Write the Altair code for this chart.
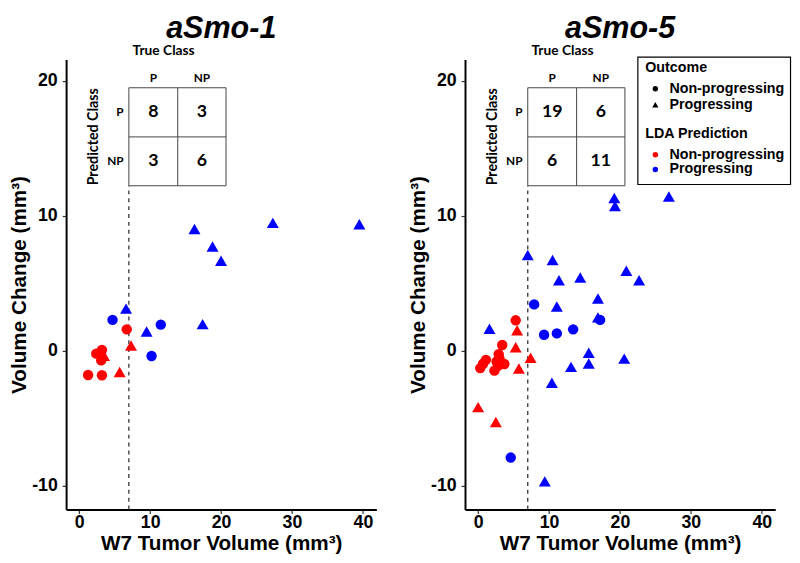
import altair as alt
import pandas as pd

LABELS = {"NP": "Non-progressing", "P": "Progressing"}
CATS = ["Non-progressing", "Progressing"]
CODES = ["NP", "P"]

# ---------------- aSmo-1 ----------------
a1_volume = [6.6, 9.5, 17.4, 16.25, 27.3, 39.5, 18.8, 20.0,
             4.7, 11.5, 10.2,
             7.3, 3.5, 5.7,
             6.7, 3.2, 2.4, 3.1, 1.25, 3.2]
a1_change = [3.1, 1.4, 1.95, 9.0, 9.45, 9.35, 7.7, 6.65,
             2.3, 1.95, -0.37,
             0.37, -0.4, -1.6,
             1.6, 0.07, -0.2, -0.7, -1.78, -1.8]
a1_outcome = ["P", "P", "P", "P", "P", "P", "P", "P",
              "NP", "NP", "NP",
              "P", "P", "P",
              "NP", "NP", "NP", "NP", "NP", "NP"]
a1_predicted = ["P", "P", "P", "P", "P", "P", "P", "P",
                "P", "P", "P",
                "NP", "NP", "NP",
                "NP", "NP", "NP", "NP", "NP", "NP"]
a1_matrix = [8, 3, 3, 6]

# ---------------- aSmo-5 ----------------
a5_volume = [11.1, 16.9, 1.6, 15.6, 15.6, 13.1, 20.6, 10.4, 9.4, 19.2,
             19.3, 26.9, 7.0, 10.5, 11.4, 14.4, 20.9, 22.7, 16.9,
             7.9, 17.2, 9.3, 11.1, 13.4, 4.6,
             5.5, 5.3, 7.4, 5.75, 0.0, 2.5,
             5.3, 3.4, 2.9, 1.1, 2.6, 3.7, 0.3, 2.3, 0.7, 3.0, 2.8]
a5_change = [3.25, 2.45, 1.6, -0.17, -0.97, -1.22, -0.61, -2.4, -9.7, 11.3,
             10.7, 11.4, 7.07, 6.7, 5.2, 5.4, 5.9, 5.2, 3.85,
             3.45, 2.3, 1.2, 1.3, 1.6, -7.9,
             1.5, 0.24, -0.54, -1.34, -4.2, -5.3,
             2.27, 0.44, -0.24, -0.66, -0.78, -0.97, -1.27, -1.46, -0.95, -0.55, -1.1]
a5_outcome = ["P", "P", "P", "P", "P", "P", "P", "P", "P", "P",
              "P", "P", "P", "P", "P", "P", "P", "P", "P",
              "NP", "NP", "NP", "NP", "NP", "NP",
              "P", "P", "P", "P", "P", "P",
              "NP", "NP", "NP", "NP", "NP", "NP", "NP", "NP", "NP", "NP", "NP"]
a5_predicted = ["P", "P", "P", "P", "P", "P", "P", "P", "P", "P",
                "P", "P", "P", "P", "P", "P", "P", "P", "P",
                "P", "P", "P", "P", "P", "P",
                "NP", "NP", "NP", "NP", "NP", "NP",
                "NP", "NP", "NP", "NP", "NP", "NP", "NP", "NP", "NP", "NP", "NP"]
a5_matrix = [19, 6, 6, 11]

MATRIX_ROWS = ["P", "P", "NP", "NP"]
MATRIX_COLS = ["P", "NP", "P", "NP"]
X_TICKS = [0, 10, 20, 30, 40]
Y_TICKS = [-10, 0, 10, 20]

# layout constants (data units)
X_DOMAIN = [-1.85, 41.9]
Y_DOMAIN = [-11.75, 21.6]
CUTOFF = 7.0
TABLE_X = [7.0, 13.89, 20.7]
TABLE_Y = [19.5, 15.86, 12.24]

RED, BLUE = "#FF0000", "#0000FF"
AX_FONT = "Liberation Sans"
TB_FONT = "Lato"
TRIANGLE = "M0,-1.1L1.15,0.9L-1.15,0.9Z"


def panel(name, vol, chg, out, pred, matrix, show_legend):
    df = pd.DataFrame({
        "vol": vol, "chg": chg,
        "Outcome": [LABELS[o] for o in out],
        "Pred": pred,
    })
    xs = alt.Scale(domain=X_DOMAIN, nice=False, zero=False)
    ys = alt.Scale(domain=Y_DOMAIN, nice=False, zero=False)
    x_axis = alt.Axis(values=X_TICKS, title="W7 Tumor Volume (mm³)")
    y_axis = alt.Axis(values=Y_TICKS, title="Volume Change (mm³)",
                      labelExpr="replace(datum.label, '−', '-')")

    if show_legend:
        shape_legend = alt.Legend(title="Outcome", orient="none", legendX=183, legendY=1.5,
                                  symbolFillColor="black", symbolStrokeColor="black",
                                  symbolStrokeWidth=0, symbolSize=30, symbolOffset=3,
                                  labelOffset=7, titlePadding=6.5, rowPadding=1.5,
                                  padding=0)
        color_legend = alt.Legend(title="LDA Prediction", orient="none", legendX=183, legendY=69,
                                  symbolType="circle", symbolStrokeWidth=0, symbolSize=30,
                                  symbolOffset=3, labelOffset=7, titlePadding=6,
                                  rowPadding=0, padding=0,
                                  labelExpr="datum.label == 'NP' ? 'Non-progressing' : 'Progressing'")
    else:
        shape_legend = None
        color_legend = None

    pts = alt.Chart(df).mark_point(filled=True, opacity=1, strokeWidth=0, size=112).encode(
        x=alt.X("vol:Q", scale=xs, axis=x_axis),
        y=alt.Y("chg:Q", scale=ys, axis=y_axis),
        shape=alt.Shape("Outcome:N", scale=alt.Scale(domain=CATS, range=["circle", TRIANGLE]),
                        legend=shape_legend),
        color=alt.Color("Pred:N", scale=alt.Scale(domain=CODES, range=[RED, BLUE]),
                        legend=color_legend),
    )

    cut_df = pd.DataFrame({"x": [CUTOFF], "y": [Y_DOMAIN[0]], "y2": [TABLE_Y[2]]})
    cut = alt.Chart(cut_df).mark_rule(strokeDash=[4, 4], color="#333333", strokeWidth=1.3).encode(
        x=alt.X("x:Q", scale=xs), y=alt.Y("y:Q", scale=ys), y2="y2:Q")

    segs = []
    for ty in TABLE_Y:
        segs.append({"x": TABLE_X[0], "x2": TABLE_X[2], "y": ty, "y2": ty})
    for tx in TABLE_X:
        segs.append({"x": tx, "x2": tx, "y": TABLE_Y[0], "y2": TABLE_Y[2]})
    grid = alt.Chart(pd.DataFrame(segs)).mark_rule(color="#444444", strokeWidth=1).encode(
        x=alt.X("x:Q", scale=xs), x2="x2:Q", y=alt.Y("y:Q", scale=ys), y2="y2:Q")

    cx = {"P": (TABLE_X[0] + TABLE_X[1]) / 2, "NP": (TABLE_X[1] + TABLE_X[2]) / 2}
    cy = {"P": (TABLE_Y[0] + TABLE_Y[1]) / 2, "NP": (TABLE_Y[1] + TABLE_Y[2]) / 2}
    cells = pd.DataFrame({
        "x": [cx[c] for c in MATRIX_COLS],
        "y": [cy[r] for r in MATRIX_ROWS],
        "n": [str(v) for v in matrix],
    })
    cell_txt = alt.Chart(cells).mark_text(font=TB_FONT, fontWeight="bold", fontSize=18,
                                          baseline="middle", color="black").encode(
        x=alt.X("x:Q", scale=xs), y=alt.Y("y:Q", scale=ys), text="n:N")

    heads = pd.DataFrame({
        "x": [cx["P"], cx["NP"]],
        "y": [TABLE_Y[0] + 0.7, TABLE_Y[0] + 0.7],
        "t": ["P", "NP"],
    })
    head_txt = alt.Chart(heads).mark_text(font=TB_FONT, fontWeight="bold", fontSize=12,
                                          baseline="middle", color="black").encode(
        x=alt.X("x:Q", scale=xs), y=alt.Y("y:Q", scale=ys), text="t:N")

    rows = pd.DataFrame({
        "x": [TABLE_X[0] - 0.75, TABLE_X[0] - 0.75],
        "y": [cy["P"], cy["NP"]],
        "t": ["P", "NP"],
    })
    row_txt = alt.Chart(rows).mark_text(font=TB_FONT, fontWeight="bold", fontSize=12, align="right",
                                        baseline="middle", color="black").encode(
        x=alt.X("x:Q", scale=xs), y=alt.Y("y:Q", scale=ys), text="t:N")

    true_df = pd.DataFrame({"x": [11.9], "y": [22.2], "t": ["True Class"]})
    true_txt = alt.Chart(true_df).mark_text(font=TB_FONT, fontWeight="bold", fontSize=14,
                                            baseline="middle", color="black").encode(
        x=alt.X("x:Q", scale=xs), y=alt.Y("y:Q", scale=ys), text="t:N")

    pred_df = pd.DataFrame({"x": [2.05], "y": [(TABLE_Y[0] + TABLE_Y[2]) / 2], "t": ["Predicted Class"]})
    pred_txt = alt.Chart(pred_df).mark_text(font=TB_FONT, fontWeight="bold", fontSize=14.5, angle=270,
                                            baseline="middle", color="black").encode(
        x=alt.X("x:Q", scale=xs), y=alt.Y("y:Q", scale=ys), text="t:N")

    layers = [cut, grid, cell_txt, head_txt, row_txt, true_txt, pred_txt, pts]
    if show_legend:
        frame = alt.Chart(alt.Data(values=[{}])).mark_rect(
            fillOpacity=0, stroke="black", strokeWidth=1.2).encode(
            x=alt.value(175.5), x2=alt.value(330.5), y=alt.value(-2.3), y2=alt.value(127))
        layers.append(frame)

    return alt.layer(*layers).properties(
        width=315, height=457,
        title=alt.TitleParams(name, font=AX_FONT, fontSize=31, fontStyle="italic",
                              fontWeight="bold", frame="group", anchor="middle",
                              offset=0, color="black"),
    )


left = panel("aSmo-1", a1_volume, a1_change, a1_outcome, a1_predicted, a1_matrix, False)
right = panel("aSmo-5", a5_volume, a5_change, a5_outcome, a5_predicted, a5_matrix, True)

chart = alt.hconcat(left, right, spacing=31).resolve_scale(
    color="independent", shape="independent"
).resolve_legend(
    color="independent", shape="independent"
).properties(padding=0).configure_view(stroke=None).configure_axis(
    grid=False, domainColor="black", domainWidth=2, tickColor="#333333", tickSize=4,
    tickWidth=1.2, labelFont=AX_FONT, labelFontSize=18, labelFontWeight="bold",
    labelColor="black", titleFont=AX_FONT, titleFontSize=21, titleFontWeight="bold",
    titleColor="black",
).configure_axisX(labelPadding=0, titlePadding=2).configure_axisY(
    labelPadding=5, titlePadding=2
).configure_legend(
    titleFont=AX_FONT, titleFontSize=14.5, titleFontWeight="bold", titleColor="black",
    labelFont=AX_FONT, labelFontSize=14.5, labelFontWeight="bold", labelColor="black",
)

chart.save("out.html", embed_options={"renderer": "svg", "actions": False})
